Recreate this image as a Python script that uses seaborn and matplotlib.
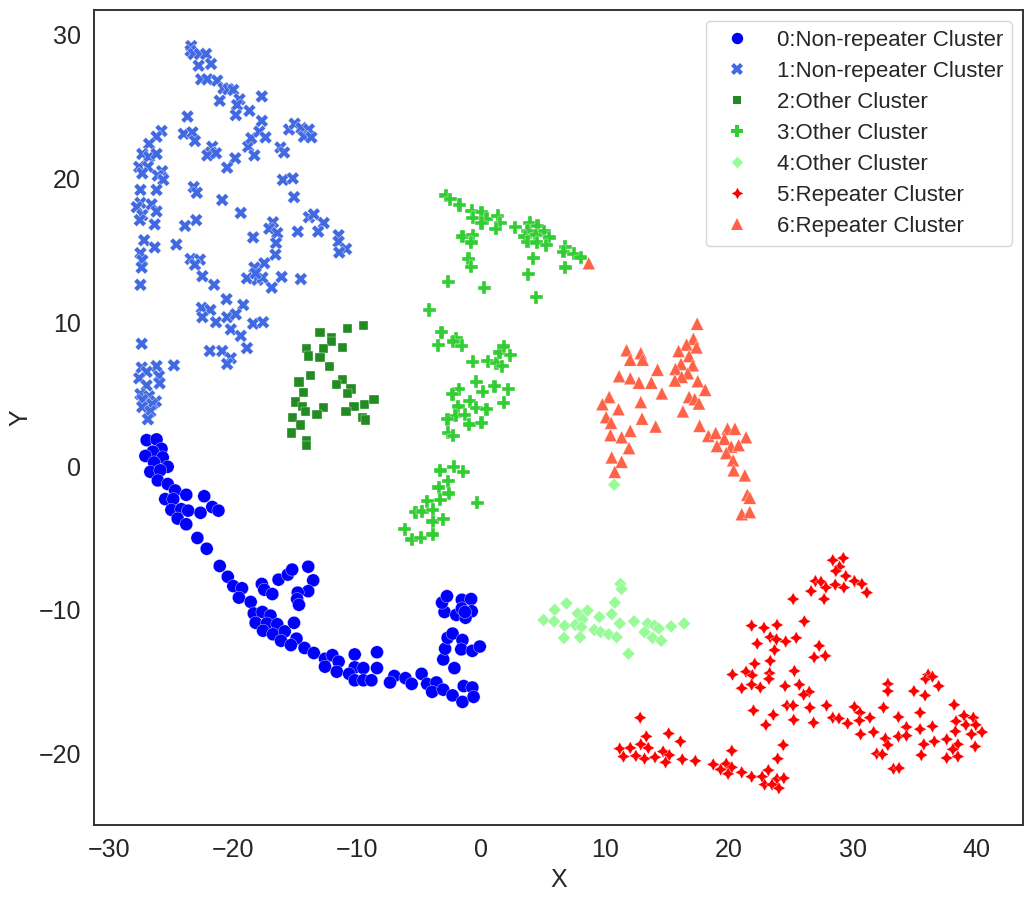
import matplotlib
matplotlib.use("Agg")
import matplotlib.pyplot as plt
import pandas as pd
import seaborn as sns

labels = ["0:Non-repeater Cluster", "1:Non-repeater Cluster", "2:Other Cluster", "3:Other Cluster",
          "4:Other Cluster", "5:Repeater Cluster", "6:Repeater Cluster"]
colors = ["blue", "royalblue", "forestgreen", "limegreen", "palegreen", "red", "tomato"]

cluster0 = [(-27.0,1.8),(-26.2,1.85),(-25.8,1.2),(-26.5,1.0),(-27.1,0.7),(-25.7,0.6),(-26.4,0.25),(-25.3,-0.05),
 (-26.7,-0.4),(-25.9,-0.3),(-26.1,-1.0),(-25.3,-1.25),(-24.7,-1.7),(-23.8,-2.0),(-22.35,-2.1),(-25.5,-2.3),
 (-24.85,-2.3),(-21.7,-2.85),(-21.2,-3.1),(-25.0,-3.05),(-24.2,-3.0),(-23.65,-3.1),(-22.65,-3.25),(-24.5,-3.65),
 (-23.8,-4.05),(-22.9,-5.0),(-22.15,-5.75),(-21.1,-6.95),(-20.45,-7.7),(-20.0,-8.35),(-19.3,-8.5),(-19.55,-9.15),
 (-18.6,-9.45),(-18.35,-10.25),(-17.65,-10.15),(-17.0,-10.4),(-18.2,-10.9),(-17.3,-10.95),(-16.45,-11.0),
 (-17.6,-11.45),(-16.8,-11.7),(-15.85,-11.5),(-16.15,-12.15),(-15.1,-10.9),(-14.9,-12.0),(-15.35,-12.45),
 (-14.25,-12.65),(-13.5,-13.0),(-17.7,-8.2),(-17.5,-8.6),(-16.85,-8.9),(-16.35,-7.9),(-15.6,-7.55),(-15.25,-7.2),
 (-13.95,-7.0),(-13.55,-7.95),(-13.95,-8.7),(-14.8,-8.8),(-14.85,-9.25),(-14.7,-9.65),
 (-12.6,-13.4),(-12.0,-13.15),(-11.5,-13.6),(-12.6,-13.95),(-11.65,-14.3),(-10.2,-13.1),(-8.4,-12.95),(-8.4,-14.05),
 (-10.2,-14.0),(-9.5,-14.05),(-10.65,-14.45),(-10.2,-14.9),(-9.5,-14.9),(-8.85,-14.9),(-7.0,-14.6),(-7.35,-15.05),
 (-6.1,-14.75),(-5.6,-15.15),(-4.8,-14.45),(-4.35,-15.15),(-3.6,-15.05),(-3.95,-15.7),(-3.05,-15.55),(-2.3,-15.95),
 (-1.5,-16.4),(-1.4,-15.3),(-0.7,-15.4),(-0.6,-16.05),(-2.15,-14.05),(-3.05,-13.45),(-2.9,-12.7),(-2.7,-11.95),
 (-2.3,-11.65),(-1.5,-12.1),(-1.6,-12.75),(-0.7,-12.85),(-0.1,-12.55),(-2.95,-10.15),(-3.15,-9.5),(-2.75,-9.05),
 (-1.55,-9.3),(-0.8,-9.25),(-2.0,-10.35),(-1.55,-9.9),(-0.75,-10.1),(-1.25,-10.55),(-1.3,-10.15)]

cluster1 = [(-23.4,29.2),(-23.45,28.88),(-23.2,28.65),(-22.7,28.65),(-22.2,28.65),(-22.8,27.84),(-21.8,27.96),
 (-22.6,26.89),(-22.1,26.89),(-21.3,26.8),(-20.8,26.26),(-20.4,26.2),(-20.0,26.15),(-19.5,25.5),(-17.7,25.7),
 (-21.1,25.4),(-19.7,25.1),(-19.8,24.4),(-18.7,24.7),(-23.7,24.3),(-17.7,24.0),(-25.8,23.3),(-26.2,22.9),(-24.0,23.1),
 (-23.3,23.2),(-23.1,22.6),(-26.8,22.4),(-27.35,21.7),(-26.8,21.5),(-26.2,21.7),(-27.6,20.8),(-26.9,20.8),
 (-27.35,20.35),(-25.75,20.5),(-26.1,20.2),(-25.65,19.9),(-27.5,19.2),(-26.2,19.2),(-21.7,22.2),(-21.8,21.8),
 (-22.1,21.6),(-21.4,21.75),(-19.85,21.4),(-20.5,20.75),(-18.8,22.2),(-18.55,22.8),(-17.9,23.25),(-17.4,22.85),
 (-18.3,21.6),(-16.2,22.15),(-15.9,21.8),(-15.5,23.4),(-15.05,23.8),(-14.5,23.5),(-13.9,23.4),(-14.3,22.9),
 (-13.7,22.85),(-16.0,19.9),(-15.2,20.0),(-15.1,18.7),(-23.2,19.4),(-22.95,19.0),(-20.9,18.5),(-19.4,17.6),
 (-23.0,17.1),(-23.9,16.7),(-27.5,18.3),(-27.8,18.0),(-26.6,18.2),(-26.2,17.7),(-27.35,17.45),(-27.55,17.1),
 (-26.35,16.8),(-27.2,15.7),(-26.35,15.2),(-27.5,14.8),(-24.6,15.4),(-18.4,15.9),(-16.8,16.95),(-17.1,16.5),
 (-16.45,16.2),(-16.55,15.5),(-16.6,14.7),(-14.8,16.3),(-13.9,17.3),(-13.5,17.5),(-12.7,16.9),(-13.15,16.3),
 (-11.5,16.05),(-11.5,15.6),(-10.9,15.1),(-11.45,14.85),(-27.35,14.3),(-27.4,13.8),(-27.5,12.6),(-23.45,14.4),
 (-22.7,14.35),(-23.1,14.0),(-22.5,13.2),(-21.55,12.6),(-17.5,14.1),(-18.3,13.8),(-18.9,13.05),(-18.05,12.95),
 (-17.65,13.1),(-18.2,13.4),(-16.1,13.15),(-14.55,13.0),(-16.9,12.4),(-20.55,11.6),(-19.2,11.2),(-22.55,11.0),
 (-21.85,10.85),(-22.5,10.35),(-21.4,10.0),(-20.5,10.35),(-19.8,10.55),(-18.4,9.9),(-17.6,10.0),(-20.2,9.5),
 (-19.4,9.05),(-18.9,8.2),(-27.4,8.5),(-21.9,8.0),(-20.9,8.0),(-20.2,7.5),(-20.5,7.1),(-24.8,7.0),(-27.4,6.85),
 (-26.2,6.95),(-27.0,6.55),(-27.6,6.1),(-26.0,6.25),(-25.95,5.75),(-27.0,5.6),(-27.5,5.0),(-26.8,4.85),(-26.25,4.5),
 (-27.35,4.6),(-27.35,4.1),(-26.55,4.3),(-26.7,3.8),(-26.9,3.25)]

cluster2 = [(-13.0,9.3),(-10.75,9.55),(-9.5,9.75),(-12.1,8.9),(-12.05,8.65),(-11.2,8.25),(-14.1,8.15),(-12.7,8.15),
 (-13.95,7.65),(-13.0,7.55),(-12.25,6.9),(-13.8,6.3),(-14.7,5.85),(-11.2,6.0),(-11.65,5.65),(-10.5,5.35),(-10.8,5.05),
 (-14.35,5.1),(-15.0,4.45),(-14.4,4.15),(-14.15,3.8),(-12.75,4.05),(-13.25,3.6),(-10.25,4.15),(-10.9,3.8),(-9.4,4.3),
 (-8.65,4.6),(-9.6,3.4),(-9.35,3.2),(-15.2,3.4),(-14.55,2.85),(-15.3,2.3),(-14.1,1.8),(-14.1,1.45)]

cluster3 = [(-2.85,18.8),(-2.5,18.55),(-1.75,18.15),(-0.75,17.75),(0.05,17.65),(-0.65,17.25),(0.45,17.2),(0.05,16.9),
 (1.35,17.4),(1.55,16.9),(1.2,16.5),(2.75,16.6),(3.95,16.9),(4.55,16.7),(3.75,16.35),(5.1,16.3),(3.55,15.95),(4.4,16.05),
 (5.5,15.9),(3.75,15.6),(4.5,15.55),(5.25,15.35),(6.8,15.25),(6.65,14.9),(7.5,14.75),(8.05,14.5),(-1.5,15.95),
 (-0.65,16.05),(-0.8,15.55),(-1.0,14.4),(-0.8,13.85),(4.2,14.45),(3.8,13.35),(6.8,13.8),(-2.65,12.8),(0.25,12.4),
 (4.45,11.75),(-4.2,10.85),(-3.2,9.3),(-3.45,8.4),(-2.0,8.9),(-2.25,8.65),(-1.55,8.35),(-0.65,7.25),(0.55,7.3),
 (1.25,7.15),(1.7,6.95),(1.5,7.9),(1.85,8.3),(2.35,7.7),(-0.4,5.85),(-1.8,5.35),(-2.3,5.0),(0.15,5.15),(1.1,5.55),
 (2.2,5.35),(1.85,4.4),(-0.9,4.5),(-1.85,4.15),(-0.4,4.05),(0.45,3.95),(-2.05,3.5),(-1.3,3.55),(-2.7,3.25),(-0.95,2.9),
 (0.05,3.0),(-2.65,2.3),(-2.25,2.1),(-3.3,-0.3),(-2.2,-0.05),(-1.45,-0.4),(-2.65,-1.05),(-3.4,-1.5),(-2.6,-1.9),
 (-3.3,-2.35),(-4.35,-2.45),(-0.3,-2.55),(-5.3,-3.2),(-4.75,-3.15),(-3.9,-3.05),(-3.9,-3.85),(-3.05,-3.7),(-6.15,-4.4),
 (-5.6,-5.1),(-4.85,-5.0),(-3.9,-4.75)]

cluster4 = [(11.25,-8.2),(11.35,-8.55),(6.9,-9.55),(10.8,-9.5),(5.95,-10.0),(8.6,-10.05),(7.8,-10.25),(10.55,-10.3),
 (9.55,-10.5),(8.2,-10.65),(5.05,-10.7),(5.9,-10.8),(11.2,-10.95),(12.35,-10.8),(6.75,-11.1),(7.6,-11.05),(8.1,-11.2),
 (13.45,-10.95),(14.0,-11.1),(14.35,-11.3),(15.35,-11.15),(16.4,-10.95),(13.2,-11.55),(9.15,-11.4),(9.65,-11.55),
 (10.3,-11.7),(10.95,-11.9),(6.7,-11.95),(8.0,-11.9),(13.85,-11.95),(14.55,-12.15),(11.9,-13.05),(10.75,-1.3)]

cluster5 = [(29.25,-6.4),(28.4,-6.55),(28.95,-7.0),(28.65,-7.3),(29.45,-7.65),(27.0,-8.0),(27.45,-8.05),(30.15,-8.0),
 (30.75,-8.2),(28.6,-8.25),(27.85,-8.45),(29.3,-8.45),(26.65,-8.7),(31.15,-8.8),(25.2,-9.25),(27.7,-9.25),(26.1,-10.8),
 (21.85,-11.1),(22.85,-11.25),(23.9,-11.05),(23.35,-11.9),(23.85,-12.05),(24.6,-12.2),(25.45,-11.95),(22.3,-12.35),
 (27.3,-12.5),(23.7,-12.8),(26.9,-13.3),(27.8,-13.2),(23.35,-13.55),(22.1,-13.75),(20.3,-14.5),(21.4,-14.3),(21.9,-14.55),
 (23.3,-14.4),(23.25,-14.8),(25.3,-14.25),(21.85,-15.2),(21.05,-15.45),(22.55,-15.4),(24.55,-15.3),(25.7,-15.2),
 (26.5,-15.7),(26.05,-15.9),(32.85,-15.15),(32.85,-15.65),(34.95,-15.65),(35.85,-15.95),(36.1,-14.5),(35.9,-14.8),
 (36.45,-14.65),(36.95,-15.3),(22.0,-17.0),(23.6,-17.3),(24.7,-16.65),(25.2,-16.65),(26.55,-16.8),(27.9,-16.65),
 (25.25,-17.65),(26.85,-17.85),(23.0,-18.0),(28.4,-17.5),(28.9,-17.55),(29.6,-17.9),(30.15,-16.75),(30.6,-17.15),
 (31.4,-17.5),(30.55,-17.7),(32.5,-16.8),(33.7,-17.45),(35.45,-17.15),(38.2,-16.6),(39.0,-17.35),(39.75,-17.5),
 (38.35,-17.75),(39.15,-18.0),(39.95,-18.0),(36.45,-18.1),(35.45,-18.3),(34.35,-18.15),(38.3,-18.45),(39.6,-18.65),
 (40.45,-18.5),(30.65,-18.65),(31.7,-18.5),(32.65,-18.95),(33.7,-18.8),(34.35,-18.75),(32.85,-19.4),(37.6,-19.0),
 (36.6,-19.15),(35.75,-19.35),(38.5,-19.35),(38.1,-19.7),(39.9,-19.5),(31.95,-20.0),(32.4,-20.05),(35.55,-20.1),
 (37.6,-20.3),(38.5,-20.2),(33.3,-21.05),(33.75,-21.0),(12.85,-17.5),(13.35,-18.8),(15.15,-18.6),(16.1,-19.15),
 (12.9,-19.35),(13.5,-19.6),(11.2,-19.65),(12.05,-19.6),(14.7,-19.85),(15.2,-20.1),(11.5,-20.2),(12.5,-20.15),
 (13.2,-20.35),(14.05,-20.25),(14.9,-20.6),(16.25,-20.4),(17.3,-20.5),(20.25,-19.8),(24.4,-19.4),(23.95,-20.35),
 (18.75,-20.75),(19.8,-20.7),(19.35,-21.1),(20.25,-20.95),(19.95,-21.4),(21.05,-21.3),(21.85,-21.6),(22.7,-21.6),
 (23.2,-21.15),(23.9,-21.75),(24.45,-21.7),(22.9,-22.15),(23.5,-22.15),(24.05,-22.4)]

cluster6 = [(17.45,9.9),(17.15,8.85),(16.6,8.45),(17.4,8.25),(15.95,8.0),(11.75,8.05),(12.9,7.85),(13.05,7.4),(12.05,7.4),
 (16.8,7.65),(16.15,7.1),(17.1,7.0),(15.7,6.75),(14.25,6.7),(16.7,6.45),(16.2,6.2),(11.15,6.25),(12.05,6.1),(12.75,5.8),
 (13.75,5.8),(15.65,5.95),(17.5,5.9),(18.1,5.3),(14.6,5.05),(10.35,4.8),(16.8,4.8),(17.25,4.65),(17.6,4.35),(12.9,4.45),
 (9.8,4.3),(11.1,3.95),(16.3,3.8),(10.1,3.4),(13.0,3.3),(10.5,3.0),(14.1,2.75),(17.65,2.8),(12.05,2.45),(10.45,2.15),
 (11.35,2.0),(18.35,2.1),(18.95,2.3),(19.9,2.6),(20.5,2.6),(19.65,1.9),(21.4,2.0),(19.05,1.4),(20.2,1.35),(20.8,1.45),
 (19.8,0.9),(11.95,1.25),(10.55,0.6),(11.35,0.3),(20.35,0.4),(20.4,-0.3),(10.8,-0.4),(21.3,-0.65),(21.5,-2.0),(21.7,-2.2),
 (21.05,-3.35),(21.7,-3.2),(8.7,14.1)]

clusters = [cluster0, cluster1, cluster2, cluster3, cluster4, cluster5, cluster6]
df = pd.DataFrame(
    [(x, y, lab) for lab, pts in zip(labels, clusters) for x, y in pts],
    columns=["X", "Y", "cluster"],
)

sns.set_theme(style="white")
plt.rcParams["font.family"] = ["Liberation Sans", "DejaVu Sans"]

fig = plt.figure(figsize=(10.34, 9.0), dpi=100)
ax = fig.add_axes([94 / 1034, 1 - 825 / 900, (1023 - 94) / 1034, (825 - 10) / 900])
sns.scatterplot(data=df, x="X", y="Y", hue="cluster", style="cluster", hue_order=labels, style_order=labels,
                palette=colors, s=88, linewidth=0.25, edgecolor="white", ax=ax)
ax.set_xlim(-31.25, 43.76)
ax.set_ylim(-24.96, 31.71)
ax.tick_params(labelsize=18)
ax.set_xlabel("X", fontsize=18)
ax.set_ylabel("Y", fontsize=18)
for sp in ax.spines.values():
    sp.set_color("#333333")
    sp.set_linewidth(1.4)
leg = ax.legend(loc="upper right", fontsize=16, frameon=True, borderaxespad=0.5, labelspacing=0.45)
for handle in leg.legend_handles:
    handle.set_markersize(8.2)
    handle.set_markeredgewidth(0)
fig.savefig("out.png", dpi=100)
